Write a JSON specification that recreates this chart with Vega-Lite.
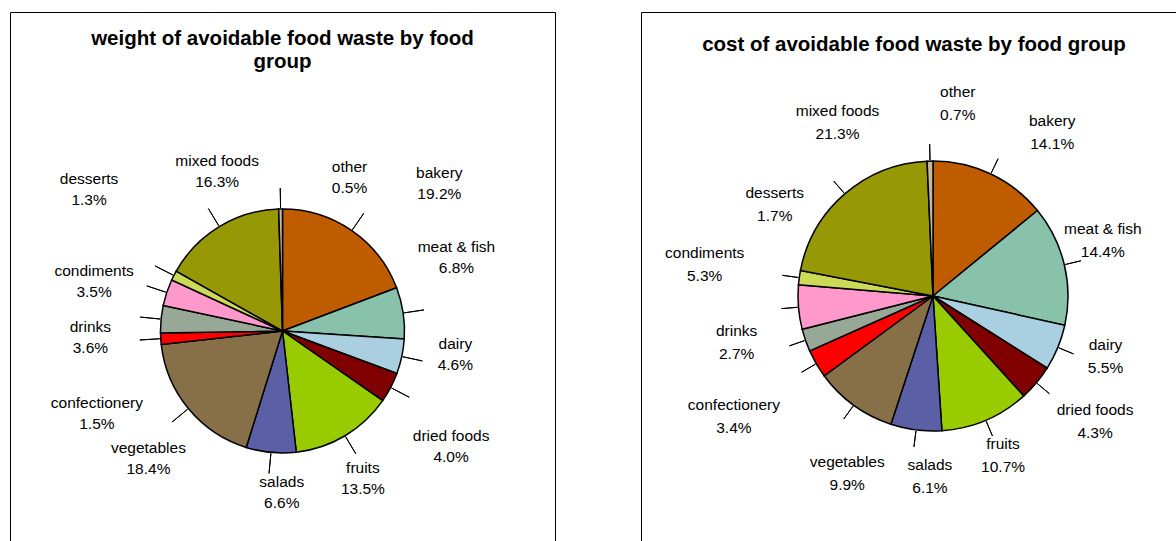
{
  "$schema": "https://vega.github.io/schema/vega-lite/v6.json",
  "padding": {"left": 9, "top": 11, "right": 0, "bottom": 0},
  "background": "white",
  "config": {
    "view": {"stroke": "black", "strokeWidth": 1},
    "font": "Liberation Sans",
    "concat": {"spacing": 84},
    "text": {"fontSize": 15.5, "fill": "black", "font": "Liberation Sans"}
  },
  "datasets": {
    "weight": [
      {"idx": 1, "category": "bakery", "value": 0.192},
      {"idx": 2, "category": "meat & fish", "value": 0.068},
      {"idx": 3, "category": "dairy", "value": 0.046},
      {"idx": 4, "category": "dried foods", "value": 0.040},
      {"idx": 5, "category": "fruits", "value": 0.135},
      {"idx": 6, "category": "salads", "value": 0.066},
      {"idx": 7, "category": "vegetables", "value": 0.184},
      {"idx": 8, "category": "confectionery", "value": 0.015},
      {"idx": 9, "category": "drinks", "value": 0.036},
      {"idx": 10, "category": "condiments", "value": 0.035},
      {"idx": 11, "category": "desserts", "value": 0.013},
      {"idx": 12, "category": "mixed foods", "value": 0.163},
      {"idx": 13, "category": "other", "value": 0.005}
    ],
    "cost": [
      {"idx": 1, "category": "bakery", "value": 0.141},
      {"idx": 2, "category": "meat & fish", "value": 0.144},
      {"idx": 3, "category": "dairy", "value": 0.055},
      {"idx": 4, "category": "dried foods", "value": 0.043},
      {"idx": 5, "category": "fruits", "value": 0.107},
      {"idx": 6, "category": "salads", "value": 0.061},
      {"idx": 7, "category": "vegetables", "value": 0.099},
      {"idx": 8, "category": "confectionery", "value": 0.034},
      {"idx": 9, "category": "drinks", "value": 0.027},
      {"idx": 10, "category": "condiments", "value": 0.053},
      {"idx": 11, "category": "desserts", "value": 0.017},
      {"idx": 12, "category": "mixed foods", "value": 0.213},
      {"idx": 13, "category": "other", "value": 0.007}
    ]
  },
  "hconcat": [
    {
      "width": 545,
      "height": 638,
      "title": {
        "text": ["weight of avoidable food waste by food", "group"],
        "fontSize": 20.5, "fontWeight": "bold", "font": "Liberation Sans", "color": "black",
        "anchor": "middle", "baseline": "top", "lineHeight": 23, "offset": -60
      },
      "data": {"name": "weight"},
      "layer": [
        {"mark": {"type": "point", "opacity": 0, "size": 0, "strokeWidth": 0},
         "encoding": {"x": {"field": "idx", "type": "quantitative", "axis": null}, "y": {"field": "value", "type": "quantitative", "axis": null}}},
        {"mark": {"type": "arc", "innerRadius": 123, "outerRadius": 143, "padAngle": 3, "filled": false, "stroke": "black", "strokeWidth": 1},
         "encoding": {"theta": {"field": "value", "type": "quantitative", "stack": true}, "order": {"field": "idx", "type": "quantitative"}, "detail": {"field": "category"}}},
        {"mark": {"type": "arc", "outerRadius": 122, "stroke": "black", "strokeWidth": 1.5},
         "encoding": {
           "theta": {"field": "value", "type": "quantitative", "stack": true},
           "order": {"field": "idx", "type": "quantitative"},
           "color": {"field": "category", "type": "nominal", "legend": null,
             "scale": {
               "domain": ["bakery", "meat & fish", "dairy", "dried foods", "fruits", "salads", "vegetables", "confectionery", "drinks", "condiments", "desserts", "mixed foods", "other"],
               "range": ["#C05C00", "#88C2AA", "#A9CFE0", "#800000", "#99CC00", "#5A5FA6", "#876F47", "#FF0000", "#97A897", "#FF99CC", "#CCDB57", "#969905", "#C4B8A0"]}}}},

        {"mark": {"type": "text", "radius": 188, "dx": 50, "dy": -3}, "encoding": {"theta": {"field": "value", "type": "quantitative", "stack": true}, "order": {"field": "idx", "type": "quantitative"}, "detail": {"field": "category"}, "text": {"condition": {"test": "datum.category === 'bakery'", "field": "category", "type": "nominal"}, "value": ""}}},
        {"mark": {"type": "text", "radius": 188, "dx": 50, "dy": 18}, "encoding": {"theta": {"field": "value", "type": "quantitative", "stack": true}, "order": {"field": "idx", "type": "quantitative"}, "detail": {"field": "category"}, "text": {"condition": {"test": "datum.category === 'bakery'", "field": "value", "type": "quantitative", "format": ".1%"}, "value": ""}}},

        {"mark": {"type": "text", "radius": 188, "dx": -12, "dy": -56}, "encoding": {"theta": {"field": "value", "type": "quantitative", "stack": true}, "order": {"field": "idx", "type": "quantitative"}, "detail": {"field": "category"}, "text": {"condition": {"test": "datum.category === 'meat & fish'", "field": "category", "type": "nominal"}, "value": ""}}},
        {"mark": {"type": "text", "radius": 188, "dx": -12, "dy": -35}, "encoding": {"theta": {"field": "value", "type": "quantitative", "stack": true}, "order": {"field": "idx", "type": "quantitative"}, "detail": {"field": "category"}, "text": {"condition": {"test": "datum.category === 'meat & fish'", "field": "value", "type": "quantitative", "format": ".1%"}, "value": ""}}},

        {"mark": {"type": "text", "radius": 188, "dx": -11, "dy": -26}, "encoding": {"theta": {"field": "value", "type": "quantitative", "stack": true}, "order": {"field": "idx", "type": "quantitative"}, "detail": {"field": "category"}, "text": {"condition": {"test": "datum.category === 'dairy'", "field": "category", "type": "nominal"}, "value": ""}}},
        {"mark": {"type": "text", "radius": 188, "dx": -11, "dy": -5}, "encoding": {"theta": {"field": "value", "type": "quantitative", "stack": true}, "order": {"field": "idx", "type": "quantitative"}, "detail": {"field": "category"}, "text": {"condition": {"test": "datum.category === 'dairy'", "field": "value", "type": "quantitative", "format": ".1%"}, "value": ""}}},

        {"mark": {"type": "text", "radius": 188, "dx": 2, "dy": 18}, "encoding": {"theta": {"field": "value", "type": "quantitative", "stack": true}, "order": {"field": "idx", "type": "quantitative"}, "detail": {"field": "category"}, "text": {"condition": {"test": "datum.category === 'dried foods'", "field": "category", "type": "nominal"}, "value": ""}}},
        {"mark": {"type": "text", "radius": 188, "dx": 2, "dy": 39}, "encoding": {"theta": {"field": "value", "type": "quantitative", "stack": true}, "order": {"field": "idx", "type": "quantitative"}, "detail": {"field": "category"}, "text": {"condition": {"test": "datum.category === 'dried foods'", "field": "value", "type": "quantitative", "format": ".1%"}, "value": ""}}},

        {"mark": {"type": "text", "radius": 188, "dx": -16, "dy": -24}, "encoding": {"theta": {"field": "value", "type": "quantitative", "stack": true}, "order": {"field": "idx", "type": "quantitative"}, "detail": {"field": "category"}, "text": {"condition": {"test": "datum.category === 'fruits'", "field": "category", "type": "nominal"}, "value": ""}}},
        {"mark": {"type": "text", "radius": 188, "dx": -16, "dy": -3}, "encoding": {"theta": {"field": "value", "type": "quantitative", "stack": true}, "order": {"field": "idx", "type": "quantitative"}, "detail": {"field": "category"}, "text": {"condition": {"test": "datum.category === 'fruits'", "field": "value", "type": "quantitative", "format": ".1%"}, "value": ""}}},

        {"mark": {"type": "text", "radius": 188, "dx": 17, "dy": -36}, "encoding": {"theta": {"field": "value", "type": "quantitative", "stack": true}, "order": {"field": "idx", "type": "quantitative"}, "detail": {"field": "category"}, "text": {"condition": {"test": "datum.category === 'salads'", "field": "category", "type": "nominal"}, "value": ""}}},
        {"mark": {"type": "text", "radius": 188, "dx": 17, "dy": -15}, "encoding": {"theta": {"field": "value", "type": "quantitative", "stack": true}, "order": {"field": "idx", "type": "quantitative"}, "detail": {"field": "category"}, "text": {"condition": {"test": "datum.category === 'salads'", "field": "value", "type": "quantitative", "format": ".1%"}, "value": ""}}},

        {"mark": {"type": "text", "radius": 188, "dx": 11, "dy": -3}, "encoding": {"theta": {"field": "value", "type": "quantitative", "stack": true}, "order": {"field": "idx", "type": "quantitative"}, "detail": {"field": "category"}, "text": {"condition": {"test": "datum.category === 'vegetables'", "field": "category", "type": "nominal"}, "value": ""}}},
        {"mark": {"type": "text", "radius": 188, "dx": 11, "dy": 18}, "encoding": {"theta": {"field": "value", "type": "quantitative", "stack": true}, "order": {"field": "idx", "type": "quantitative"}, "detail": {"field": "category"}, "text": {"condition": {"test": "datum.category === 'vegetables'", "field": "value", "type": "quantitative", "format": ".1%"}, "value": ""}}},

        {"mark": {"type": "text", "radius": 188, "dx": 2, "dy": 60}, "encoding": {"theta": {"field": "value", "type": "quantitative", "stack": true}, "order": {"field": "idx", "type": "quantitative"}, "detail": {"field": "category"}, "text": {"condition": {"test": "datum.category === 'confectionery'", "field": "category", "type": "nominal"}, "value": ""}}},
        {"mark": {"type": "text", "radius": 188, "dx": 2, "dy": 81}, "encoding": {"theta": {"field": "value", "type": "quantitative", "stack": true}, "order": {"field": "idx", "type": "quantitative"}, "detail": {"field": "category"}, "text": {"condition": {"test": "datum.category === 'confectionery'", "field": "value", "type": "quantitative", "format": ".1%"}, "value": ""}}},

        {"mark": {"type": "text", "radius": 188, "dx": -5, "dy": 14}, "encoding": {"theta": {"field": "value", "type": "quantitative", "stack": true}, "order": {"field": "idx", "type": "quantitative"}, "detail": {"field": "category"}, "text": {"condition": {"test": "datum.category === 'drinks'", "field": "category", "type": "nominal"}, "value": ""}}},
        {"mark": {"type": "text", "radius": 188, "dx": -5, "dy": 35}, "encoding": {"theta": {"field": "value", "type": "quantitative", "stack": true}, "order": {"field": "idx", "type": "quantitative"}, "detail": {"field": "category"}, "text": {"condition": {"test": "datum.category === 'drinks'", "field": "value", "type": "quantitative", "format": ".1%"}, "value": ""}}},

        {"mark": {"type": "text", "radius": 188, "dx": -10, "dy": -1}, "encoding": {"theta": {"field": "value", "type": "quantitative", "stack": true}, "order": {"field": "idx", "type": "quantitative"}, "detail": {"field": "category"}, "text": {"condition": {"test": "datum.category === 'condiments'", "field": "category", "type": "nominal"}, "value": ""}}},
        {"mark": {"type": "text", "radius": 188, "dx": -10, "dy": 20}, "encoding": {"theta": {"field": "value", "type": "quantitative", "stack": true}, "order": {"field": "idx", "type": "quantitative"}, "detail": {"field": "category"}, "text": {"condition": {"test": "datum.category === 'condiments'", "field": "value", "type": "quantitative", "format": ".1%"}, "value": ""}}},

        {"mark": {"type": "text", "radius": 188, "dx": -26, "dy": -66}, "encoding": {"theta": {"field": "value", "type": "quantitative", "stack": true}, "order": {"field": "idx", "type": "quantitative"}, "detail": {"field": "category"}, "text": {"condition": {"test": "datum.category === 'desserts'", "field": "category", "type": "nominal"}, "value": ""}}},
        {"mark": {"type": "text", "radius": 188, "dx": -26, "dy": -45}, "encoding": {"theta": {"field": "value", "type": "quantitative", "stack": true}, "order": {"field": "idx", "type": "quantitative"}, "detail": {"field": "category"}, "text": {"condition": {"test": "datum.category === 'desserts'", "field": "value", "type": "quantitative", "format": ".1%"}, "value": ""}}},

        {"mark": {"type": "text", "radius": 188, "dx": 32, "dy": -9}, "encoding": {"theta": {"field": "value", "type": "quantitative", "stack": true}, "order": {"field": "idx", "type": "quantitative"}, "detail": {"field": "category"}, "text": {"condition": {"test": "datum.category === 'mixed foods'", "field": "category", "type": "nominal"}, "value": ""}}},
        {"mark": {"type": "text", "radius": 188, "dx": 32, "dy": 12}, "encoding": {"theta": {"field": "value", "type": "quantitative", "stack": true}, "order": {"field": "idx", "type": "quantitative"}, "detail": {"field": "category"}, "text": {"condition": {"test": "datum.category === 'mixed foods'", "field": "value", "type": "quantitative", "format": ".1%"}, "value": ""}}},

        {"mark": {"type": "text", "radius": 188, "dx": 70, "dy": 24}, "encoding": {"theta": {"field": "value", "type": "quantitative", "stack": true}, "order": {"field": "idx", "type": "quantitative"}, "detail": {"field": "category"}, "text": {"condition": {"test": "datum.category === 'other'", "field": "category", "type": "nominal"}, "value": ""}}},
        {"mark": {"type": "text", "radius": 188, "dx": 70, "dy": 45}, "encoding": {"theta": {"field": "value", "type": "quantitative", "stack": true}, "order": {"field": "idx", "type": "quantitative"}, "detail": {"field": "category"}, "text": {"condition": {"test": "datum.category === 'other'", "field": "value", "type": "quantitative", "format": ".1%"}, "value": ""}}}
      ]
    },
    {
      "width": 584,
      "height": 568,
      "title": {
        "text": "cost of avoidable food waste by food group",
        "fontSize": 20.5, "fontWeight": "bold", "font": "Liberation Sans", "color": "black",
        "anchor": "middle", "baseline": "top", "dx": -19, "offset": -43
      },
      "data": {"name": "cost"},
      "layer": [
        {"mark": {"type": "point", "opacity": 0, "size": 0, "strokeWidth": 0},
         "encoding": {"x": {"field": "idx", "type": "quantitative", "axis": null}, "y": {"field": "value", "type": "quantitative", "axis": null}}},
        {"mark": {"type": "arc", "innerRadius": 136, "outerRadius": 152, "padAngle": 3, "filled": false, "stroke": "black", "strokeWidth": 1},
         "encoding": {"theta": {"field": "value", "type": "quantitative", "stack": true}, "order": {"field": "idx", "type": "quantitative"}, "detail": {"field": "category"}}},
        {"mark": {"type": "arc", "outerRadius": 135, "stroke": "black", "strokeWidth": 1.5},
         "encoding": {"theta": {"field": "value", "type": "quantitative", "stack": true}, "order": {"field": "idx", "type": "quantitative"}, "color": {"field": "category", "type": "nominal", "legend": null}}},

        {"mark": {"type": "text", "radius": 192, "dx": 37, "dy": -1}, "encoding": {"theta": {"field": "value", "type": "quantitative", "stack": true}, "order": {"field": "idx", "type": "quantitative"}, "detail": {"field": "category"}, "text": {"condition": {"test": "datum.category === 'bakery'", "field": "category", "type": "nominal"}, "value": ""}}},
        {"mark": {"type": "text", "radius": 192, "dx": 37, "dy": 22}, "encoding": {"theta": {"field": "value", "type": "quantitative", "stack": true}, "order": {"field": "idx", "type": "quantitative"}, "detail": {"field": "category"}, "text": {"condition": {"test": "datum.category === 'bakery'", "field": "value", "type": "quantitative", "format": ".1%"}, "value": ""}}},

        {"mark": {"type": "text", "radius": 192, "dx": -17, "dy": -23}, "encoding": {"theta": {"field": "value", "type": "quantitative", "stack": true}, "order": {"field": "idx", "type": "quantitative"}, "detail": {"field": "category"}, "text": {"condition": {"test": "datum.category === 'meat & fish'", "field": "category", "type": "nominal"}, "value": ""}}},
        {"mark": {"type": "text", "radius": 192, "dx": -17, "dy": 0}, "encoding": {"theta": {"field": "value", "type": "quantitative", "stack": true}, "order": {"field": "idx", "type": "quantitative"}, "detail": {"field": "category"}, "text": {"condition": {"test": "datum.category === 'meat & fish'", "field": "value", "type": "quantitative", "format": ".1%"}, "value": ""}}},

        {"mark": {"type": "text", "radius": 192, "dx": -5, "dy": -24}, "encoding": {"theta": {"field": "value", "type": "quantitative", "stack": true}, "order": {"field": "idx", "type": "quantitative"}, "detail": {"field": "category"}, "text": {"condition": {"test": "datum.category === 'dairy'", "field": "category", "type": "nominal"}, "value": ""}}},
        {"mark": {"type": "text", "radius": 192, "dx": -5, "dy": -1}, "encoding": {"theta": {"field": "value", "type": "quantitative", "stack": true}, "order": {"field": "idx", "type": "quantitative"}, "detail": {"field": "category"}, "text": {"condition": {"test": "datum.category === 'dairy'", "field": "value", "type": "quantitative", "format": ".1%"}, "value": ""}}},

        {"mark": {"type": "text", "radius": 192, "dx": 15, "dy": -9}, "encoding": {"theta": {"field": "value", "type": "quantitative", "stack": true}, "order": {"field": "idx", "type": "quantitative"}, "detail": {"field": "category"}, "text": {"condition": {"test": "datum.category === 'dried foods'", "field": "category", "type": "nominal"}, "value": ""}}},
        {"mark": {"type": "text", "radius": 192, "dx": 15, "dy": 14}, "encoding": {"theta": {"field": "value", "type": "quantitative", "stack": true}, "order": {"field": "idx", "type": "quantitative"}, "detail": {"field": "category"}, "text": {"condition": {"test": "datum.category === 'dried foods'", "field": "value", "type": "quantitative", "format": ".1%"}, "value": ""}}},

        {"mark": {"type": "text", "radius": 192, "dx": -5, "dy": -29}, "encoding": {"theta": {"field": "value", "type": "quantitative", "stack": true}, "order": {"field": "idx", "type": "quantitative"}, "detail": {"field": "category"}, "text": {"condition": {"test": "datum.category === 'fruits'", "field": "category", "type": "nominal"}, "value": ""}}},
        {"mark": {"type": "text", "radius": 192, "dx": -5, "dy": -6}, "encoding": {"theta": {"field": "value", "type": "quantitative", "stack": true}, "order": {"field": "idx", "type": "quantitative"}, "detail": {"field": "category"}, "text": {"condition": {"test": "datum.category === 'fruits'", "field": "value", "type": "quantitative", "format": ".1%"}, "value": ""}}},

        {"mark": {"type": "text", "radius": 192, "dx": 21, "dy": -21}, "encoding": {"theta": {"field": "value", "type": "quantitative", "stack": true}, "order": {"field": "idx", "type": "quantitative"}, "detail": {"field": "category"}, "text": {"condition": {"test": "datum.category === 'salads'", "field": "category", "type": "nominal"}, "value": ""}}},
        {"mark": {"type": "text", "radius": 192, "dx": 21, "dy": 2}, "encoding": {"theta": {"field": "value", "type": "quantitative", "stack": true}, "order": {"field": "idx", "type": "quantitative"}, "detail": {"field": "category"}, "text": {"condition": {"test": "datum.category === 'salads'", "field": "value", "type": "quantitative", "format": ".1%"}, "value": ""}}},

        {"mark": {"type": "text", "radius": 192, "dx": 27, "dy": 11}, "encoding": {"theta": {"field": "value", "type": "quantitative", "stack": true}, "order": {"field": "idx", "type": "quantitative"}, "detail": {"field": "category"}, "text": {"condition": {"test": "datum.category === 'vegetables'", "field": "category", "type": "nominal"}, "value": ""}}},
        {"mark": {"type": "text", "radius": 192, "dx": 27, "dy": 34}, "encoding": {"theta": {"field": "value", "type": "quantitative", "stack": true}, "order": {"field": "idx", "type": "quantitative"}, "detail": {"field": "category"}, "text": {"condition": {"test": "datum.category === 'vegetables'", "field": "value", "type": "quantitative", "format": ".1%"}, "value": ""}}},

        {"mark": {"type": "text", "radius": 192, "dx": -33, "dy": 13}, "encoding": {"theta": {"field": "value", "type": "quantitative", "stack": true}, "order": {"field": "idx", "type": "quantitative"}, "detail": {"field": "category"}, "text": {"condition": {"test": "datum.category === 'confectionery'", "field": "category", "type": "nominal"}, "value": ""}}},
        {"mark": {"type": "text", "radius": 192, "dx": -33, "dy": 36}, "encoding": {"theta": {"field": "value", "type": "quantitative", "stack": true}, "order": {"field": "idx", "type": "quantitative"}, "detail": {"field": "category"}, "text": {"condition": {"test": "datum.category === 'confectionery'", "field": "value", "type": "quantitative", "format": ".1%"}, "value": ""}}},

        {"mark": {"type": "text", "radius": 192, "dx": -15, "dy": -28}, "encoding": {"theta": {"field": "value", "type": "quantitative", "stack": true}, "order": {"field": "idx", "type": "quantitative"}, "detail": {"field": "category"}, "text": {"condition": {"test": "datum.category === 'drinks'", "field": "category", "type": "nominal"}, "value": ""}}},
        {"mark": {"type": "text", "radius": 192, "dx": -15, "dy": -5}, "encoding": {"theta": {"field": "value", "type": "quantitative", "stack": true}, "order": {"field": "idx", "type": "quantitative"}, "detail": {"field": "category"}, "text": {"condition": {"test": "datum.category === 'drinks'", "field": "value", "type": "quantitative", "format": ".1%"}, "value": ""}}},

        {"mark": {"type": "text", "radius": 192, "dx": -37, "dy": -59}, "encoding": {"theta": {"field": "value", "type": "quantitative", "stack": true}, "order": {"field": "idx", "type": "quantitative"}, "detail": {"field": "category"}, "text": {"condition": {"test": "datum.category === 'condiments'", "field": "category", "type": "nominal"}, "value": ""}}},
        {"mark": {"type": "text", "radius": 192, "dx": -37, "dy": -36}, "encoding": {"theta": {"field": "value", "type": "quantitative", "stack": true}, "order": {"field": "idx", "type": "quantitative"}, "detail": {"field": "category"}, "text": {"condition": {"test": "datum.category === 'condiments'", "field": "value", "type": "quantitative", "format": ".1%"}, "value": ""}}},

        {"mark": {"type": "text", "radius": 192, "dx": 32, "dy": -77}, "encoding": {"theta": {"field": "value", "type": "quantitative", "stack": true}, "order": {"field": "idx", "type": "quantitative"}, "detail": {"field": "category"}, "text": {"condition": {"test": "datum.category === 'desserts'", "field": "category", "type": "nominal"}, "value": ""}}},
        {"mark": {"type": "text", "radius": 192, "dx": 32, "dy": -54}, "encoding": {"theta": {"field": "value", "type": "quantitative", "stack": true}, "order": {"field": "idx", "type": "quantitative"}, "detail": {"field": "category"}, "text": {"condition": {"test": "datum.category === 'desserts'", "field": "value", "type": "quantitative", "format": ".1%"}, "value": ""}}},

        {"mark": {"type": "text", "radius": 192, "dx": 30, "dy": -40}, "encoding": {"theta": {"field": "value", "type": "quantitative", "stack": true}, "order": {"field": "idx", "type": "quantitative"}, "detail": {"field": "category"}, "text": {"condition": {"test": "datum.category === 'mixed foods'", "field": "category", "type": "nominal"}, "value": ""}}},
        {"mark": {"type": "text", "radius": 192, "dx": 30, "dy": -17}, "encoding": {"theta": {"field": "value", "type": "quantitative", "stack": true}, "order": {"field": "idx", "type": "quantitative"}, "detail": {"field": "category"}, "text": {"condition": {"test": "datum.category === 'mixed foods'", "field": "value", "type": "quantitative", "format": ".1%"}, "value": ""}}},

        {"mark": {"type": "text", "radius": 192, "dx": 29, "dy": -12}, "encoding": {"theta": {"field": "value", "type": "quantitative", "stack": true}, "order": {"field": "idx", "type": "quantitative"}, "detail": {"field": "category"}, "text": {"condition": {"test": "datum.category === 'other'", "field": "category", "type": "nominal"}, "value": ""}}},
        {"mark": {"type": "text", "radius": 192, "dx": 29, "dy": 11}, "encoding": {"theta": {"field": "value", "type": "quantitative", "stack": true}, "order": {"field": "idx", "type": "quantitative"}, "detail": {"field": "category"}, "text": {"condition": {"test": "datum.category === 'other'", "field": "value", "type": "quantitative", "format": ".1%"}, "value": ""}}}
      ]
    }
  ]
}
